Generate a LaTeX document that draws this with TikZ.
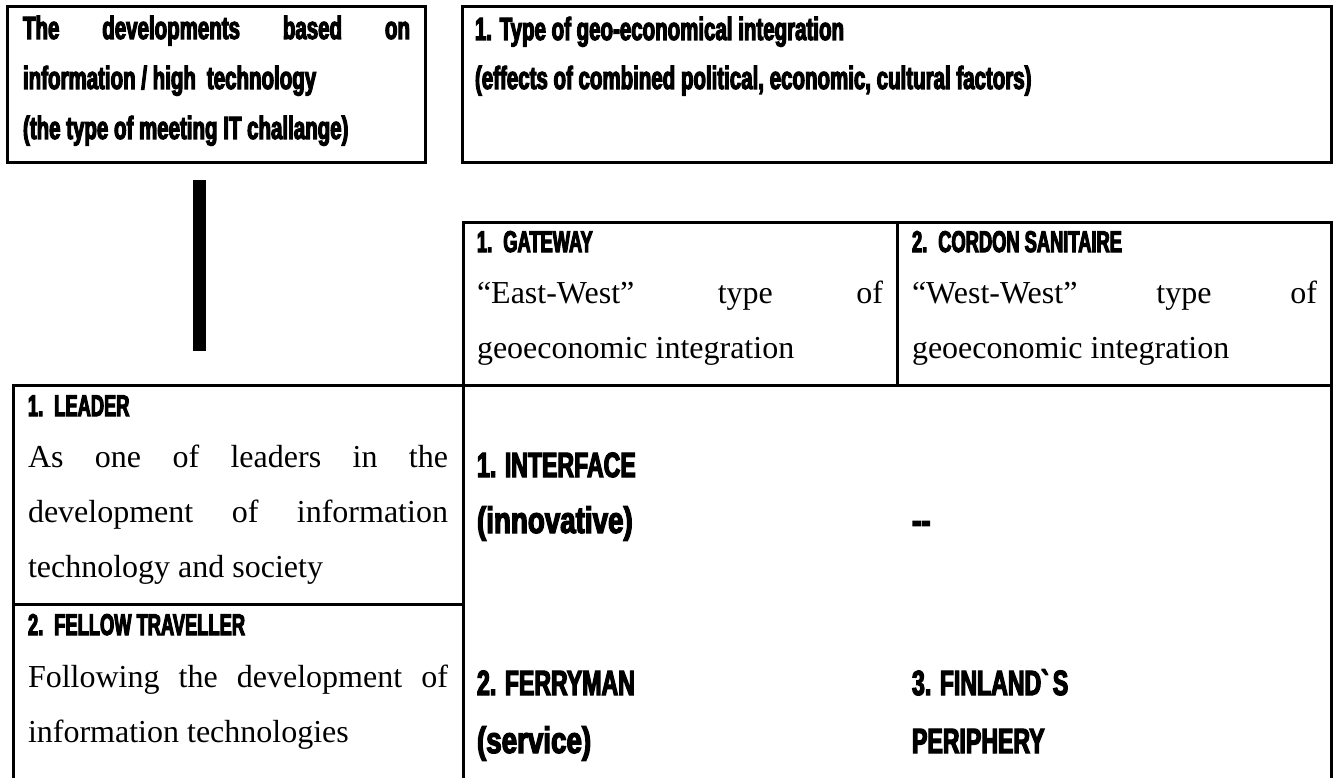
\documentclass[tikz,border=0pt]{standalone}
\usepackage{fontspec}
\setmainfont{Liberation Serif}
\newfontfamily\impl{Liberation Sans}[UprightFont={* Bold}, FakeStretch=0.64, FakeBold=3.5]
\newfontfamily\impc{Liberation Sans}[UprightFont={* Bold}, FakeStretch=0.61, FakeBold=3.5]
\newfontfamily\impbl{Liberation Sans}[UprightFont={* Bold}, FakeStretch=0.75, FakeBold=3.5]
\newfontfamily\impbc{Liberation Sans}[UprightFont={* Bold}, FakeStretch=0.66, FakeBold=3.5]
\tikzset{
  box/.style={draw, line width=3pt},
  lbl/.style={anchor=base west, inner sep=0pt, outer sep=0pt},
  tms/.style={lbl, font=\fontsize{32}{38}\selectfont},
  impl/.style={lbl, font=\impl\fontsize{32}{38}\selectfont},
  impc/.style={lbl, font=\impc\fontsize{30}{36}\selectfont},
  impbig/.style={lbl, font=\impbl\fontsize{37}{42}\selectfont},
  impbigc/.style={lbl, font=\impbc\fontsize{35}{40}\selectfont},
}
\begin{document}
\begin{tikzpicture}[x=1pt,y=-1pt]
\useasboundingbox (0,0) rectangle (1337,778);
\fill[white] (0,0) rectangle (1337,778);
% frames
\draw[box] (7,7) rectangle (425,163);
\draw[box] (462,7) rectangle (1331,163);
\draw[box] (463,222) rectangle (1331,385);
\draw[box] (897,222) -- (897,385);
\draw[box] (13,780) -- (13,385) -- (463,385);
\draw[box] (463,385) -- (463,780);
\draw[box] (1331,385) -- (1331,780);
\draw[box] (13,604) -- (463,604);
\fill (193,180) rectangle (206,351);
% top-left box
\node[impl] (tl1) at (23,39) {\hbox to 387pt{The\hfill developments\hfill based\hfill on}};
\node[impl] (tl2) at (23,89) {information / high\hspace{11pt}technology};
\node[impl] (tl3) at (23,139) {(the type of meeting IT challange)};
% top-right box
\node[impl] (tr1) at (475,40) {1. Type of geo-economical integration};
\node[impl] (tr2) at (475,89) {(effects of combined political, economic, cultural factors)};
% header cells
\node[impc] (gw1) at (477,252) {1.\hspace{11pt}GATEWAY};
\node[tms] (gw2) at (477,303) {\hbox to 406pt{“East-West”\hfill type\hfill of}};
\node[tms] (gw3) at (477,358) {geoeconomic integration};
\node[impc] (cs1) at (912,252) {2.\hspace{11pt}CORDON SANITAIRE};
\node[tms] (cs2) at (912,303) {\hbox to 405pt{“West-West”\hfill type\hfill of}};
\node[tms] (cs3) at (912,358) {geoeconomic integration};
% left column
\node[impc] (ld1) at (28,416) {1.\hspace{11pt}LEADER};
\node[tms] (ld2) at (28,467) {\hbox to 420pt{As\hfill one\hfill of\hfill leaders\hfill in\hfill the}};
\node[tms] (ld3) at (28,522) {\hbox to 420pt{development\hfill of\hfill information}};
\node[tms] (ld4) at (28,577) {technology and society};
\node[impc] (fw1) at (28,635) {2.\hspace{11pt}FELLOW TRAVELLER};
\node[tms] (fw2) at (28,687) {\hbox to 420pt{Following\hfill the\hfill development\hfill of}};
\node[tms] (fw3) at (28,742) {information technologies};
% middle column
\node[impbigc] (if1) at (477,477) {1. INTERFACE};
\node[impbig] (if2) at (477,533) {(innovative)};
\node[impbigc] (fm1) at (477,695) {2. FERRYMAN};
\node[impbig] (fm2) at (477,753) {(service)};
% right column
\node[impbig] (dd) at (912,533) {-{}-};
\node[impbigc] (fp1) at (912,695) {3. FINLAND\textasciigrave S};
\node[impbigc] (fp2) at (912,753) {PERIPHERY};
\end{tikzpicture}
\end{document}
